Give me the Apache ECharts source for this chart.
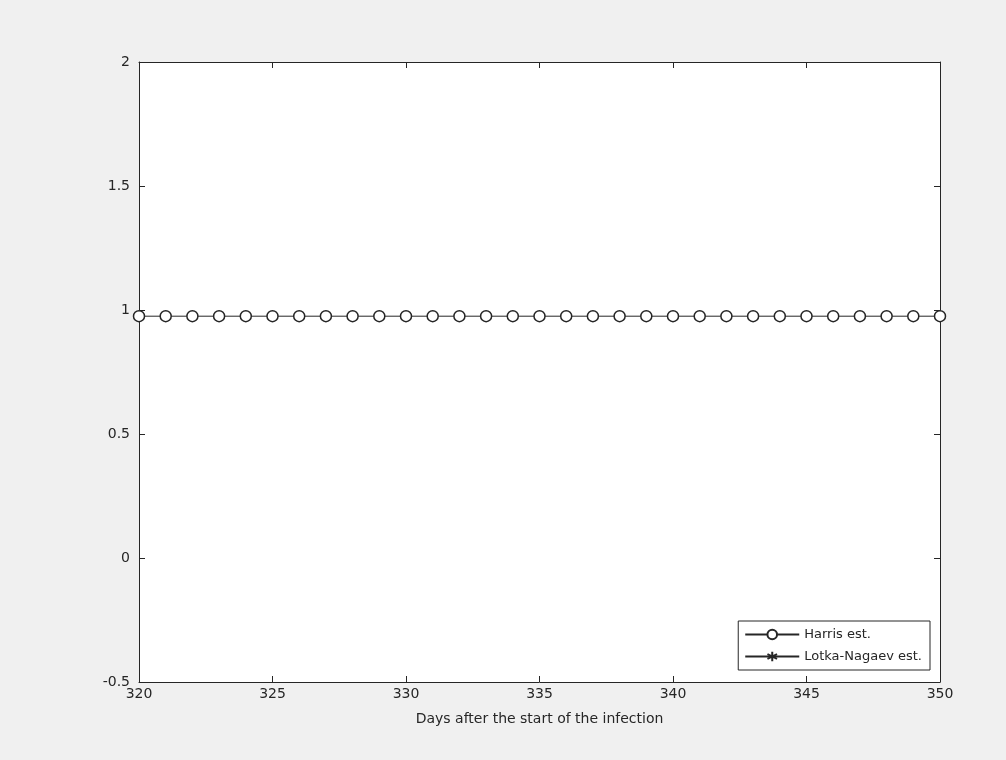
<!DOCTYPE html>
<html><head><meta charset="utf-8">
<script src="https://cdn.jsdelivr.net/npm/echarts@6/dist/echarts.min.js"></script>
<style>html,body{margin:0;background:#f0f0f0}#c{width:1006px;height:760px}</style>
</head><body><div id="c"></div>
<script>
var days = [320,321,322,323,324,325,326,327,328,329,330,331,332,333,334,335,336,337,338,339,340,341,342,343,344,345,346,347,348,349,350];
var harris = [0.975,0.975,0.975,0.975,0.975,0.975,0.975,0.975,0.975,0.975,0.975,0.975,0.975,0.975,0.975,0.975,0.975,0.975,0.975,0.975,0.975,0.975,0.975,0.975,0.975,0.975,0.975,0.975,0.975,0.975,0.975];
var lotka = days.map(function(){ return null; });
var yTicks = {min: -0.5, max: 2, step: 0.5};
var xTicks = {min: 320, max: 350, step: 5};

var star = 'path://M0,-10L0,10M-9,-5L9,5M-9,5L9,-5';
var chart = echarts.init(document.getElementById('c'));
var axisTxt = {color: '#262626', fontSize: 14, fontFamily: 'DejaVu Sans'};
function xa(pos, show){ return {type:'value', position:pos, min:xTicks.min, max:xTicks.max, interval:xTicks.step,
  axisLine:{show:true, onZero:false, lineStyle:{color:'#262626'}}, axisTick:{inside:true, length:6, lineStyle:{color:'#262626'}},
  axisLabel:{show:show, margin:5, textStyle:axisTxt}, splitLine:{show:false},
  name: show ? 'Days after the start of the infection' : '', nameLocation:'middle', nameGap:30,
  nameTextStyle:{color:'#262626', fontSize:14, fontFamily:'DejaVu Sans'}}; }
function ya(pos, show){ return {type:'value', position:pos, min:yTicks.min, max:yTicks.max, interval:yTicks.step,
  axisLine:{show:true, onZero:false, lineStyle:{color:'#262626'}}, axisTick:{inside:true, length:6, lineStyle:{color:'#262626'}},
  axisLabel:{show:show, margin:9, textStyle:axisTxt, formatter:function(v){return String(v);}}, splitLine:{show:false}}; }
chart.setOption({
  backgroundColor: '#f0f0f0',
  animation: false,
  grid: {left:139, right:66, top:62, bottom:78, show:true, backgroundColor:'#fff', borderWidth:0},
  xAxis: [xa('bottom', true), xa('top', false)],
  yAxis: [ya('left', true), ya('right', false)],
  legend: {right: 76, bottom: 90, orient:'vertical', backgroundColor:'#fff', borderColor:'#262626', borderWidth:1,
    padding:[7,8,7,6], itemGap:9, itemWidth:54, itemHeight:12,
    textStyle:{color:'#262626', fontSize:13, fontFamily:'DejaVu Sans'},
    data:['Harris est.','Lotka-Nagaev est.']},
  series: [
    {name:'Harris est.', type:'line', data: days.map(function(d,i){return [d, harris[i]];}),
     symbol:'circle', symbolSize:11, showAllSymbol:true,
     lineStyle:{color:'#262626', width:1}, itemStyle:{color:'#fff', borderColor:'#262626', borderWidth:1.5}},
    {name:'Lotka-Nagaev est.', type:'line', data: days.map(function(d,i){return [d, lotka[i]];}),
     symbol:star, symbolSize:9, lineStyle:{color:'#262626', width:1}, itemStyle:{color:'#262626', borderColor:'#262626', borderWidth:1.2}}
  ]
});
</script></body></html>
